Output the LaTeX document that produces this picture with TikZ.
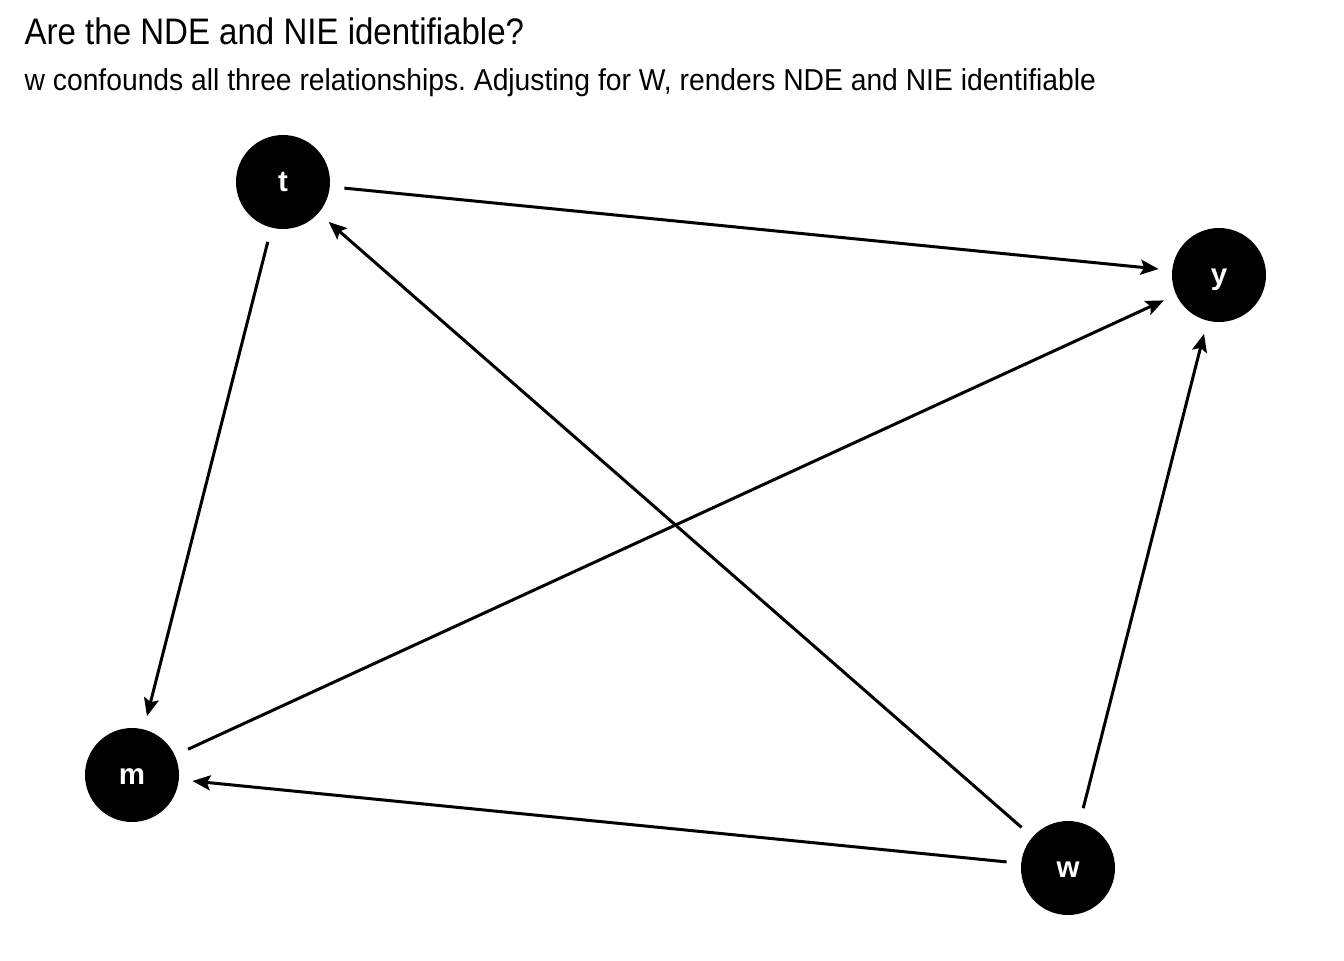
\documentclass[tikz,border=0pt]{standalone}
\usepackage{fontspec}
\setmainfont{Liberation Sans}
\newfontfamily\titlefont[FakeStretch=0.895]{Liberation Sans}
\newfontfamily\soustitrefont[FakeStretch=0.935]{Liberation Sans}
\usetikzlibrary{arrows.meta}
\tikzset{
  dagnode/.style = {align=center, inner sep=0pt, text centered,
    text height=0.55em, text depth=0pt,
    font=\bfseries\fontsize{8.4}{8.4}\selectfont},
  dag_n/.style = {dagnode, circle, white, draw=none,
    fill=black, minimum size=0.94cm},% dag, noeud noir
  dag_e/.style = {->, line width=0.3mm, shorten <=0.14cm, shorten >=0.13cm}% dag, arete
}
\frenchspacing

\begin{document}
\begin{tikzpicture}[>={Stealth[length=1.8mm,width=1.5mm,inset=0.35mm]}]
    \useasboundingbox (0,0) rectangle (13.44,-9.6);
    % titre
    \node [anchor=base west, inner sep=0pt, font=\titlefont\fontsize{10.5}{12}\selectfont]
        (titre) at (0.24,-0.44) {Are the NDE and NIE identifiable?};
    \node [anchor=base west, inner sep=0pt, font=\soustitrefont\fontsize{8.6}{10}\selectfont]
        (soustitre) at (0.24,-0.9) {w confounds all three relationships. Adjusting for W, renders NDE and NIE identifiable};
    % noeuds
    \node [dag_n] (t) at (2.83,-1.82) {t};
    \node [dag_n] (y) at (12.19,-2.75) {y};
    \node [dag_n] (m) at (1.32,-7.75) {m};
    \node [dag_n] (w) at (10.68,-8.68) {w};
    % aretes
    \draw [dag_e] (t) -- (y);
    \draw [dag_e] (t) -- (m);
    \draw [dag_e] (m) -- (y);
    \draw [dag_e] (w) -- (t);
    \draw [dag_e] (w) -- (m);
    \draw [dag_e] (w) -- (y);
\end{tikzpicture}
\end{document}
